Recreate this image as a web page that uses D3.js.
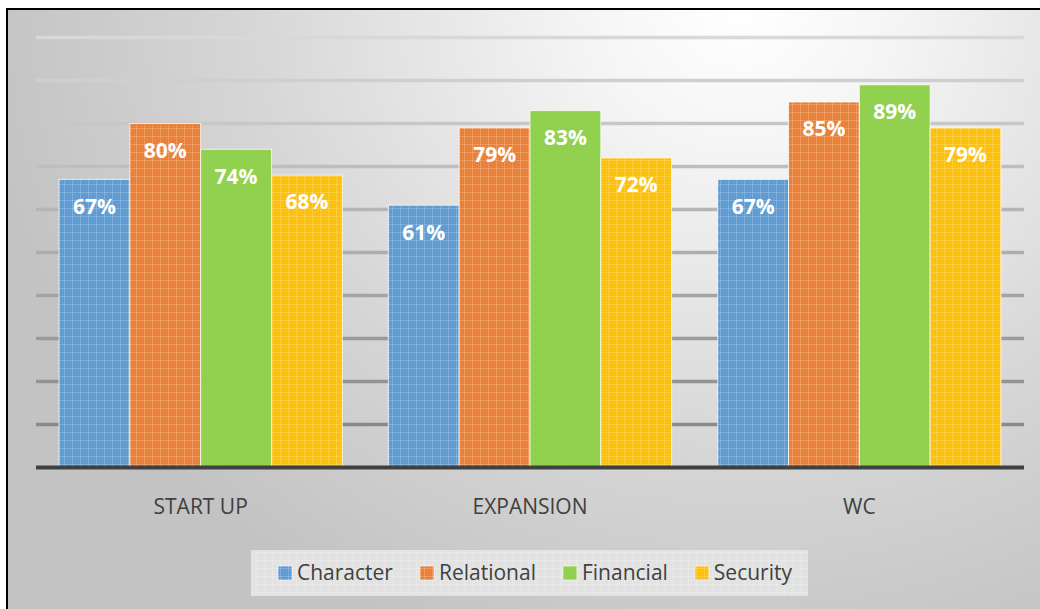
<!DOCTYPE html>
<html>
<head>
<meta charset="utf-8">
<script src="https://cdn.jsdelivr.net/npm/d3@7"></script>
<style>
  html, body { margin: 0; padding: 0; background: #fff; }
  svg { display: block; }
</style>
</head>
<body>
<div id="chart"></div>
<script>
// ---------------------------------------------------------------------------
// DATA
// ---------------------------------------------------------------------------
const categories = ["START UP", "EXPANSION", "WC"];
const seriesNames = ["Character", "Relational", "Financial", "Security"];
const character  = [0.67, 0.61, 0.67];
const relational = [0.80, 0.79, 0.85];
const financial  = [0.74, 0.83, 0.89];
const security   = [0.68, 0.72, 0.79];
const seriesValues = [character, relational, financial, security];
const yTicks = [0.1, 0.2, 0.3, 0.4, 0.5, 0.6, 0.7, 0.8, 0.9, 1.0];

// ---------------------------------------------------------------------------
// SETUP
// ---------------------------------------------------------------------------
const W = 1040, H = 609;
const plot = { left: 36, right: 1024, top: 37.5, bottom: 467.5 };

const svg = d3.select("#chart").append("svg")
  .attr("width", W).attr("height", H);

const defs = svg.append("defs");

// chart-area background: soft radial gradient, white near top, grey edges
const bg = defs.append("radialGradient")
  .attr("id", "bg")
  .attr("gradientUnits", "userSpaceOnUse")
  .attr("cx", 740).attr("cy", 10).attr("r", 760)
  .attr("gradientTransform", "translate(740,10) scale(1,0.9) translate(-740,-10)");
bg.append("stop").attr("offset", "0").attr("stop-color", "#ffffff");
bg.append("stop").attr("offset", "0.2").attr("stop-color", "#f5f5f5");
bg.append("stop").attr("offset", "0.65").attr("stop-color", "#d6d6d6");
bg.append("stop").attr("offset", "1").attr("stop-color", "#c3c3c3");

// textured bar fills (Excel style small grid)
const colors = {
  Character: "#5b9bd5",
  Relational: "#ed7d31",
  Financial: "#92d050",
  Security: "#ffc000"
};
const textured = { Character: true, Relational: true, Financial: false, Security: true };

function makePattern(id, base, textureOn) {
  const p = defs.append("pattern")
    .attr("id", id)
    .attr("patternUnits", "userSpaceOnUse")
    .attr("width", 8).attr("height", 8);
  p.append("rect").attr("width", 8).attr("height", 8).attr("fill", base);
  if (!textureOn) return;
  p.append("rect").attr("x", 0).attr("y", 0).attr("width", 8).attr("height", 1)
    .attr("fill", "#fff").attr("opacity", 0.2);
  p.append("rect").attr("x", 0).attr("y", 0).attr("width", 1).attr("height", 8)
    .attr("fill", "#fff").attr("opacity", 0.2);
  [[4, 4], [2, 2], [6, 6], [2, 6], [6, 2]].forEach(([x, y]) => {
    p.append("rect").attr("x", x).attr("y", y).attr("width", 1).attr("height", 1)
      .attr("fill", "#fff").attr("opacity", 0.18);
  });
}
seriesNames.forEach(s => makePattern("pat-" + s, colors[s], textured[s]));
makePattern("pat-legend", "#e2e2e2", true);

// background + frame
svg.append("rect").attr("x", 7).attr("y", 9).attr("width", W - 7).attr("height", H - 9)
  .attr("fill", "url(#bg)");
svg.append("line").attr("x1", 7).attr("x2", W).attr("y1", 9).attr("y2", 9)
  .attr("stroke", "#000").attr("stroke-width", 2);
svg.append("line").attr("x1", 7).attr("x2", 7).attr("y1", 8).attr("y2", H)
  .attr("stroke", "#000").attr("stroke-width", 2);

// ---------------------------------------------------------------------------
// SCALES
// ---------------------------------------------------------------------------
const y = d3.scaleLinear().domain([0, 1]).range([plot.bottom, plot.top]);
const x0 = d3.scaleBand().domain(categories).range([plot.left, plot.right])
  .paddingInner(0.14).paddingOuter(0.07);
const x1 = d3.scaleBand().domain(seriesNames).range([0, x0.bandwidth()]);

// gridlines, lighter toward the top
const gridColor = d3.scaleLinear().domain([0.1, 1]).range(["#8a8a8a", "#d8d8d8"]);
svg.append("g").selectAll("line")
  .data(yTicks)
  .join("line")
  .attr("x1", plot.left).attr("x2", plot.right)
  .attr("y1", d => y(d)).attr("y2", d => y(d))
  .attr("stroke", d => gridColor(d))
  .attr("stroke-width", 3.5);

// ---------------------------------------------------------------------------
// BARS
// ---------------------------------------------------------------------------
const flat = [];
categories.forEach((c, i) => {
  seriesNames.forEach((s, j) => flat.push({ cat: c, series: s, value: seriesValues[j][i] }));
});

const bars = svg.append("g").selectAll("g")
  .data(flat)
  .join("g");

bars.append("rect")
  .attr("x", d => x0(d.cat) + x1(d.series))
  .attr("y", d => y(d.value))
  .attr("width", x1.bandwidth())
  .attr("height", d => y(0) - y(d.value))
  .attr("fill", d => `url(#pat-${d.series})`)
  .attr("stroke", "#ffffff")
  .attr("stroke-opacity", 0.75)
  .attr("stroke-width", 1);

bars.append("text")
  .attr("x", d => x0(d.cat) + x1(d.series) + x1.bandwidth() / 2)
  .attr("y", d => y(d.value) + 27)
  .attr("dy", "0.35em")
  .attr("text-anchor", "middle")
  .style("font-family", "'Open Sans', sans-serif")
  .style("font-weight", "bold")
  .style("font-size", "21px")
  .style("fill", "#ffffff")
  .text(d => d3.format(".0%")(d.value));

// baseline
svg.append("line")
  .attr("x1", plot.left).attr("x2", plot.right)
  .attr("y1", y(0)).attr("y2", y(0))
  .attr("stroke", "#404040").attr("stroke-width", 4);

// category axis labels
svg.append("g").selectAll("text")
  .data(categories)
  .join("text")
  .attr("x", d => x0(d) + x0.bandwidth() / 2)
  .attr("y", 507)
  .attr("dy", "0.35em")
  .attr("text-anchor", "middle")
  .style("font-family", "'Open Sans', sans-serif")
  .style("font-size", "21px")
  .style("fill", "#404040")
  .text(d => d);

// ---------------------------------------------------------------------------
// LEGEND
// ---------------------------------------------------------------------------
const legend = svg.append("g");
legend.append("rect")
  .attr("x", 251).attr("y", 550).attr("width", 557).attr("height", 46)
  .attr("fill", "url(#pat-legend)");

let lx = 278;
seriesNames.forEach(s => {
  legend.append("rect")
    .attr("x", lx).attr("y", 566).attr("width", 14).attr("height", 14)
    .attr("fill", `url(#pat-${s})`)
    .attr("stroke", "#fff").attr("stroke-opacity", 0.6);
  const t = legend.append("text")
    .attr("x", lx + 19).attr("y", 573)
    .attr("dy", "0.35em")
    .style("font-family", "'Open Sans', sans-serif")
    .style("font-size", "21px")
    .style("fill", "#404040")
    .text(s);
  lx += 19 + t.node().getComputedTextLength() + 27;
});
</script>
</body>
</html>
